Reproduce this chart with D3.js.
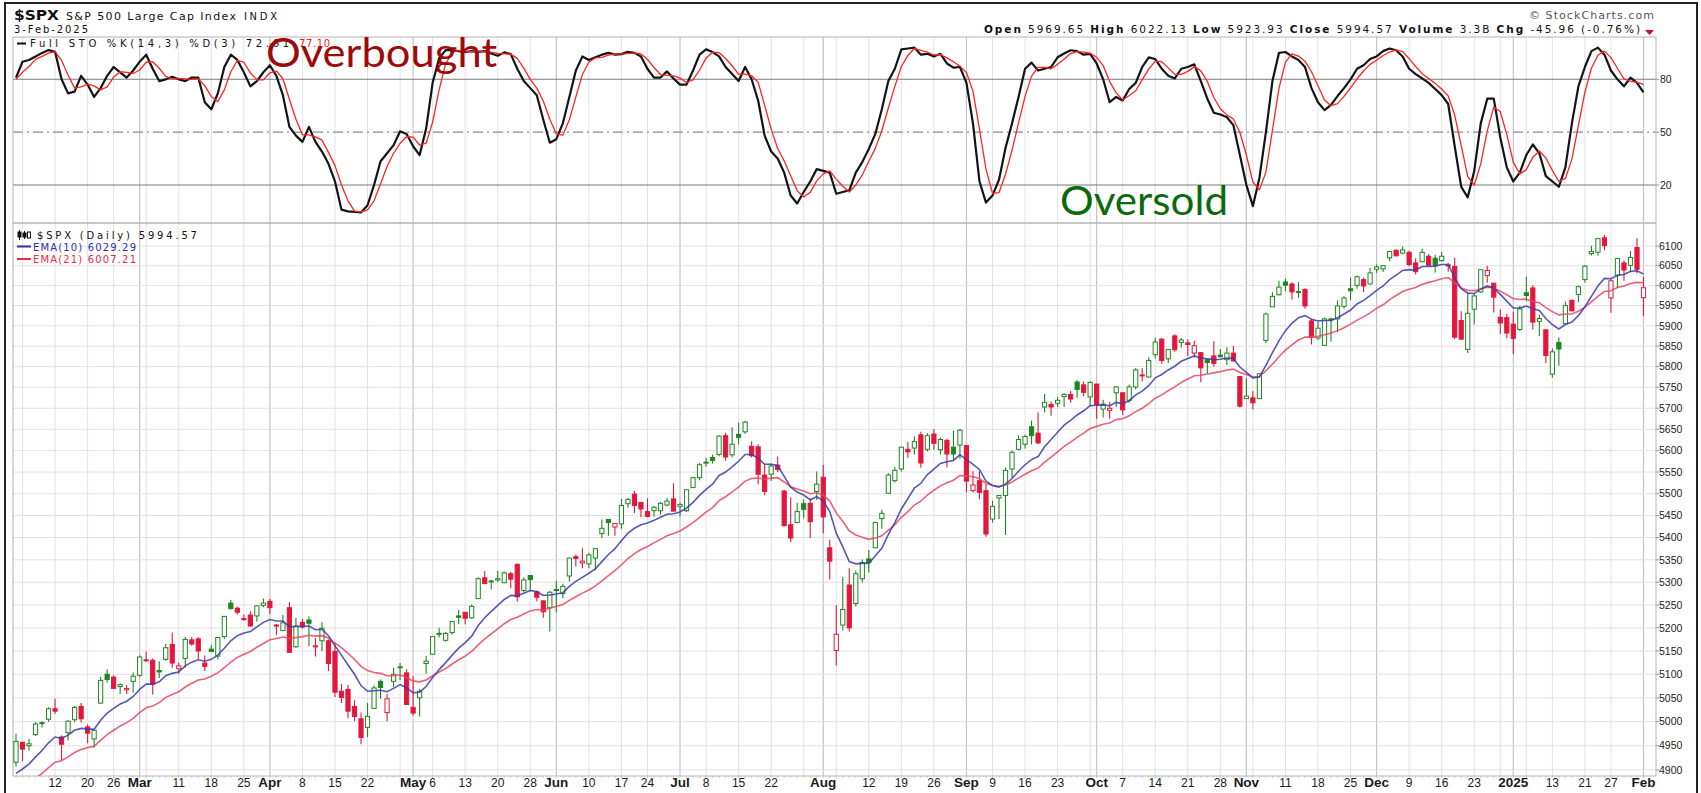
<!DOCTYPE html>
<html><head><meta charset="utf-8"><title>$SPX Full STO</title>
<script src="https://cdn.jsdelivr.net/npm/d3@7"></script>
<style>html,body{margin:0;padding:0;background:#fff;overflow:hidden}svg{display:block}</style>
</head><body><svg id="chart" width="1701" height="793"></svg>
<script>
// ---------------- DATA ----------------
const dates = [
"2024-02-02","2024-02-05","2024-02-06","2024-02-07","2024-02-08","2024-02-09","2024-02-12","2024-02-13","2024-02-14","2024-02-15","2024-02-16","2024-02-20","2024-02-21","2024-02-22","2024-02-23","2024-02-26","2024-02-27","2024-02-28","2024-02-29",
"2024-03-01","2024-03-04","2024-03-05","2024-03-06","2024-03-07","2024-03-08","2024-03-11","2024-03-12","2024-03-13","2024-03-14","2024-03-15","2024-03-18","2024-03-19","2024-03-20","2024-03-21","2024-03-22","2024-03-25","2024-03-26","2024-03-27","2024-03-28",
"2024-04-01","2024-04-02","2024-04-03","2024-04-04","2024-04-05","2024-04-08","2024-04-09","2024-04-10","2024-04-11","2024-04-12","2024-04-15","2024-04-16","2024-04-17","2024-04-18","2024-04-19","2024-04-22","2024-04-23","2024-04-24","2024-04-25","2024-04-26","2024-04-29","2024-04-30",
"2024-05-01","2024-05-02","2024-05-03","2024-05-06","2024-05-07","2024-05-08","2024-05-09","2024-05-10","2024-05-13","2024-05-14","2024-05-15","2024-05-16","2024-05-17","2024-05-20","2024-05-21","2024-05-22","2024-05-23","2024-05-24","2024-05-28","2024-05-29","2024-05-30","2024-05-31",
"2024-06-03","2024-06-04","2024-06-05","2024-06-06","2024-06-07","2024-06-10","2024-06-11","2024-06-12","2024-06-13","2024-06-14","2024-06-17","2024-06-18","2024-06-20","2024-06-21","2024-06-24","2024-06-25","2024-06-26","2024-06-27","2024-06-28",
"2024-07-01","2024-07-02","2024-07-03","2024-07-05","2024-07-08","2024-07-09","2024-07-10","2024-07-11","2024-07-12","2024-07-15","2024-07-16","2024-07-17","2024-07-18","2024-07-19","2024-07-22","2024-07-23","2024-07-24","2024-07-25","2024-07-26","2024-07-29","2024-07-30","2024-07-31",
"2024-08-01","2024-08-02","2024-08-05","2024-08-06","2024-08-07","2024-08-08","2024-08-09","2024-08-12","2024-08-13","2024-08-14","2024-08-15","2024-08-16","2024-08-19","2024-08-20","2024-08-21","2024-08-22","2024-08-23","2024-08-26","2024-08-27","2024-08-28","2024-08-29","2024-08-30",
"2024-09-03","2024-09-04","2024-09-05","2024-09-06","2024-09-09","2024-09-10","2024-09-11","2024-09-12","2024-09-13","2024-09-16","2024-09-17","2024-09-18","2024-09-19","2024-09-20","2024-09-23","2024-09-24","2024-09-25","2024-09-26","2024-09-27","2024-09-30",
"2024-10-01","2024-10-02","2024-10-03","2024-10-04","2024-10-07","2024-10-08","2024-10-09","2024-10-10","2024-10-11","2024-10-14","2024-10-15","2024-10-16","2024-10-17","2024-10-18","2024-10-21","2024-10-22","2024-10-23","2024-10-24","2024-10-25","2024-10-28","2024-10-29","2024-10-30","2024-10-31",
"2024-11-01","2024-11-04","2024-11-05","2024-11-06","2024-11-07","2024-11-08","2024-11-11","2024-11-12","2024-11-13","2024-11-14","2024-11-15","2024-11-18","2024-11-19","2024-11-20","2024-11-21","2024-11-22","2024-11-25","2024-11-26","2024-11-27","2024-11-29",
"2024-12-02","2024-12-03","2024-12-04","2024-12-05","2024-12-06","2024-12-09","2024-12-10","2024-12-11","2024-12-12","2024-12-13","2024-12-16","2024-12-17","2024-12-18","2024-12-19","2024-12-20","2024-12-23","2024-12-24","2024-12-26","2024-12-27","2024-12-30","2024-12-31",
"2025-01-02","2025-01-03","2025-01-06","2025-01-07","2025-01-08","2025-01-10","2025-01-13","2025-01-14","2025-01-15","2025-01-16","2025-01-17","2025-01-21","2025-01-22","2025-01-23","2025-01-24","2025-01-27","2025-01-28","2025-01-29","2025-01-30","2025-01-31",
"2025-02-03"];

const opens = [
4916,4957,4950,4973,4996,5005,5027,4968,4977,5004,5032,4989,4964,5039,5100,5094,5074,5067,5085,
5098,5131,5130,5108,5132,5164,5112,5134,5174,5176,5124,5154,5139,5181,5254,5243,5220,5228,5226,5249,
5258,5206,5194,5244,5159,5212,5217,5160,5172,5172,5149,5064,5068,5032,5006,4988,5028,5085,5019,5085,5114,5103,
5030,5050,5123,5143,5188,5173,5190,5226,5234,5222,5264,5310,5303,5305,5299,5319,5340,5282,5315,5279,5259,5244,
5284,5275,5314,5357,5343,5341,5354,5409,5441,5424,5431,5477,5499,5480,5459,5461,5461,5474,5488,
5471,5461,5514,5537,5572,5584,5591,5635,5590,5638,5644,5610,5609,5543,5545,5566,5506,5429,5434,5477,5478,5505,
5538,5377,5151,5206,5294,5253,5308,5352,5377,5443,5501,5530,5557,5603,5606,5637,5603,5639,5602,5624,5608,5613,
5612,5507,5530,5507,5442,5490,5496,5557,5603,5615,5656,5641,5703,5709,5712,5728,5733,5763,5756,5727,
5758,5698,5695,5737,5737,5719,5751,5778,5775,5829,5867,5819,5875,5859,5858,5833,5834,5817,5826,5828,5817,5833,5776,
5723,5725,5723,5864,5947,5977,6009,6004,5985,5990,5912,5870,5852,5917,5917,5948,5992,6000,6015,6004,
6041,6042,6070,6089,6082,6084,6057,6060,6074,6069,6063,6052,6048,5913,5842,5941,5984,6025,6006,5921,5920,
5904,5891,5982,5994,5911,5890,5782,5859,5905,5963,5978,6015,6081,6084,6121,5969,6026,6057,6051,6096,
5969.65];

const highs = [
4975,4958,4964,4999,5001,5030,5048,4971,5003,5033,5039,4994,4983,5094,5111,5098,5081,5077,5104,
5140,5149,5134,5128,5165,5190,5125,5180,5180,5180,5140,5163,5180,5225,5261,5246,5229,5236,5249,5264,
5263,5209,5228,5256,5222,5219,5225,5178,5212,5175,5169,5079,5077,5045,5019,5039,5076,5089,5058,5114,5124,5111,
5096,5069,5139,5181,5200,5191,5215,5239,5234,5251,5311,5325,5305,5325,5324,5323,5342,5311,5316,5282,5260,5281,
5303,5297,5354,5362,5376,5366,5375,5441,5442,5432,5488,5490,5506,5481,5489,5472,5481,5490,5524,
5480,5509,5539,5571,5583,5591,5636,5642,5655,5666,5670,5622,5615,5567,5570,5586,5509,5491,5479,5487,5489,5551,
5567,5395,5250,5312,5331,5326,5351,5372,5436,5464,5547,5562,5609,5620,5633,5644,5641,5651,5631,5628,5647,5651,
5612,5552,5552,5523,5484,5497,5560,5600,5636,5637,5671,5690,5734,5716,5726,5736,5741,5767,5764,5765,
5758,5720,5715,5753,5739,5757,5797,5796,5823,5871,5870,5842,5879,5870,5867,5863,5835,5818,5862,5843,5847,5850,5776,
5772,5741,5784,5933,5983,6012,6018,6008,6009,5993,5916,5909,5920,5920,5963,5973,6020,6025,6020,6044,
6053,6052,6087,6092,6099,6088,6069,6093,6080,6078,6085,6057,6070,5936,5982,5979,6040,6049,6006,5941,5929,
5935,5949,6022,6001,5928,5891,5844,5871,5960,5965,6000,6052,6101,6119,6128,6017,6070,6063,6087,6120,
6022.13];

const lows = [
4907,4918,4940,4970,4988,5000,5016,4920,4961,4999,4998,4955,4946,5038,5082,5068,5058,5058,5061,
5094,5127,5057,5092,5129,5114,5101,5114,5161,5132,5107,5148,5132,5176,5240,5229,5216,5203,5214,5245,
5230,5184,5194,5146,5157,5198,5160,5138,5150,5107,5052,5039,5007,5001,4953,4968,5028,5048,5001,5073,5088,5035,
5013,5011,5101,5143,5179,5170,5185,5208,5208,5220,5263,5297,5284,5300,5298,5287,5257,5278,5280,5258,5222,5192,
5234,5265,5302,5335,5331,5331,5327,5399,5404,5404,5420,5468,5456,5446,5446,5447,5452,5471,5460,
5448,5458,5513,5531,5563,5570,5587,5576,5584,5614,5639,5584,5522,5497,5529,5550,5425,5390,5434,5444,5399,5485,
5410,5306,5119,5194,5192,5246,5300,5322,5377,5420,5499,5526,5551,5583,5591,5560,5598,5602,5591,5561,5578,5581,
5503,5503,5487,5402,5434,5442,5406,5536,5601,5605,5614,5615,5690,5682,5703,5703,5713,5725,5728,5704,
5675,5678,5675,5703,5684,5713,5745,5764,5774,5820,5807,5809,5836,5846,5825,5822,5762,5784,5800,5823,5804,5812,5702,
5723,5697,5722,5857,5947,5976,5986,5965,5969,5942,5854,5865,5850,5861,5884,5942,5963,5992,5984,6003,
6032,6034,6061,6074,6079,6048,6028,6058,6051,6033,6060,6035,5867,5866,5833,5903,5982,6007,5933,5880,5869,
5830,5888,5961,5891,5874,5809,5773,5802,5905,5935,5958,6007,6076,6075,6089,5932,5994,6012,6033,6031,
5923.93];

const closes = [
4959,4943,4954,4995,4998,5027,5022,4953,5001,5030,5006,4976,4982,5087,5089,5070,5078,5070,5096,
5137,5131,5079,5105,5157,5124,5118,5175,5165,5150,5117,5149,5179,5225,5242,5234,5218,5204,5248,5254,
5244,5206,5211,5147,5204,5202,5210,5161,5199,5123,5062,5051,5022,5011,4967,5011,5071,5072,5048,5100,5116,5036,
5018,5064,5128,5181,5188,5188,5214,5223,5221,5247,5308,5297,5303,5308,5321,5307,5268,5305,5306,5267,5235,5278,
5283,5291,5354,5353,5347,5361,5375,5421,5434,5432,5473,5487,5473,5465,5448,5469,5478,5483,5460,
5475,5509,5537,5567,5573,5577,5634,5585,5615,5631,5667,5588,5545,5505,5564,5556,5427,5399,5459,5464,5436,5522,
5447,5347,5186,5240,5200,5319,5344,5344,5434,5455,5543,5554,5608,5597,5621,5571,5635,5617,5626,5592,5592,5648,
5529,5520,5503,5408,5471,5496,5554,5596,5626,5633,5635,5618,5714,5703,5719,5733,5722,5745,5738,5762,
5709,5710,5700,5751,5696,5751,5792,5780,5815,5860,5815,5842,5841,5865,5854,5851,5797,5810,5808,5824,5833,5814,5705,
5729,5713,5783,5929,5973,5996,6001,5984,5985,5949,5871,5894,5917,5917,5949,5969,5987,6022,5999,6032,
6047,6050,6086,6075,6090,6053,6035,6084,6051,6051,6074,6051,5872,5867,5931,5974,6040,6038,5971,5907,5882,
5869,5942,5975,5909,5918,5827,5836,5843,5950,5937,5997,6049,6086,6119,6101,6012,6068,6039,6071,6041,
5994.57];
const priorClose = 4906;

const ema10 = [
4893,4902,4912,4927,4940,4956,4968,4965,4972,4982,4986,4985,4984,5003,5018,5028,5037,5043,5053,
5068,5079,5079,5084,5097,5102,5105,5118,5126,5131,5128,5132,5141,5156,5172,5183,5189,5192,5202,5212,
5218,5215,5215,5202,5203,5203,5204,5196,5197,5183,5161,5141,5120,5100,5076,5064,5065,5066,5063,5070,5078,5071,
5061,5062,5074,5093,5110,5125,5141,5156,5168,5182,5205,5222,5236,5249,5262,5271,5270,5276,5282,5279,5271,5272,
5274,5277,5291,5302,5311,5320,5330,5346,5362,5375,5393,5410,5421,5429,5433,5439,5446,5453,5454,
5458,5467,5480,5496,5510,5522,5542,5550,5562,5575,5591,5591,5582,5568,5568,5565,5540,5515,5504,5497,5486,5493,
5484,5459,5410,5379,5346,5341,5342,5342,5359,5376,5407,5434,5465,5489,5513,5524,5544,5557,5570,5574,5577,5590,
5579,5568,5556,5529,5519,5515,5522,5535,5552,5567,5579,5586,5609,5626,5643,5660,5671,5684,5694,5706,
5707,5708,5706,5714,5711,5718,5732,5741,5754,5773,5781,5792,5801,5813,5820,5826,5821,5819,5817,5818,5821,5820,5799,
5786,5773,5775,5803,5834,5863,5888,5906,5920,5925,5916,5912,5913,5913,5920,5929,5939,5954,5963,5975,
5988,5999,6015,6026,6038,6040,6039,6048,6048,6049,6053,6053,6020,5992,5981,5980,5991,5999,5994,5978,5961,
5944,5944,5949,5942,5938,5918,5903,5892,5903,5909,5925,5947,5973,5999,6018,6017,6026,6028,6036,6037,
6029.29];

const ema21 = [
4855,4863,4871,4883,4893,4905,4916,4919,4927,4936,4942,4946,4949,4961,4973,4982,4991,4998,5007,
5019,5029,5033,5040,5051,5057,5063,5073,5081,5088,5090,5096,5103,5114,5126,5136,5143,5149,5158,5166,
5174,5177,5180,5177,5179,5181,5184,5182,5183,5178,5167,5157,5145,5132,5117,5108,5104,5102,5097,5097,5099,5093,
5086,5084,5088,5097,5105,5112,5122,5131,5139,5149,5163,5176,5187,5198,5209,5218,5223,5230,5237,5240,5239,5243,
5247,5251,5260,5268,5276,5283,5292,5303,5315,5326,5339,5353,5364,5373,5380,5388,5396,5404,5409,
5415,5424,5434,5446,5458,5468,5484,5493,5504,5515,5529,5535,5536,5533,5536,5537,5527,5516,5511,5506,5500,5502,
5497,5483,5456,5437,5415,5406,5401,5396,5399,5404,5417,5429,5446,5459,5474,5483,5497,5508,5518,5525,5531,5542,
5541,5539,5535,5524,5519,5517,5520,5527,5536,5545,5553,5559,5573,5585,5597,5610,5620,5631,5641,5652,
5657,5662,5665,5673,5675,5682,5692,5700,5711,5724,5732,5742,5751,5762,5770,5778,5779,5782,5785,5788,5792,5794,5786,
5781,5775,5776,5790,5806,5824,5840,5853,5865,5872,5872,5874,5878,5882,5888,5895,5904,5914,5922,5932,
5943,5952,5965,5975,5985,5991,5995,6003,6008,6012,6017,6020,6007,5994,5988,5987,5992,5996,5994,5986,5977,
5967,5965,5966,5960,5957,5945,5935,5927,5929,5929,5936,5946,5959,5973,5985,5987,5995,5999,6005,6008,
6007.21];

const stoK = [
81,90,91,93,95,96.6,95.6,80,72,73,82,77,70,75,82,87,84,81,85,
90,94,86,79,80,81.5,80,79,81,81,67,63,72,87,94,91,84,76,79,84,
88,82,71,53,48,44.5,53,44.5,39,32,22,6,5,4.7,4.4,8.5,20,33.5,38,42.6,50.5,49,
42,37,52,78,92,96.6,96.6,96,95.5,96,95.6,96,94.7,93.4,95.3,94.3,86,79,75,71,57,44,
46,55,70,85,93,91,92.5,94,95,94,94.3,95.6,95,93,86,81,81,84.5,80.5,
77,77,85,94,97,95.5,93,87,83,79,87,80,68,48,39,35,27,14,9.5,16,22,29,
28,27,15,16,17,27,33,40.5,49,63,79,86,97,97.5,98,94,94.5,93,94.5,89,86.6,87,
78,55,22,10,14,23,41,55,70,86,89.5,85,86,87,92.5,94.7,96.5,96,94,94.5,
89,80,67,70,68,74.5,78,87,92.5,91.5,86,82,80.5,86,87,88.5,79,69,61,60,58.5,54,37,
20,8,24,50,79,95,95.5,93,91,87,75,67,62.5,65.5,70.5,75,80,86,88,91.5,
93,96,97.5,96.5,93,86,83,80.5,78,74.5,71,66,42,19,13,28,55,69,69,47,30,
22,27,37,43,38,25,22,19,30,55,76,87,96,98,94,85,80,76,81,78,
72.61];

const stoD = [
80,84,87.3,91.3,93,94.9,95.7,90.7,82.5,75,75.7,77.3,76.3,74,75.7,81.3,84.3,84,83.3,
85.3,89.7,90,86.3,81.7,80.2,80.5,80.2,80,80.3,76.3,70.3,67.3,74,84.3,90.7,89.7,83.7,79.7,79.7,
83.7,84.7,80.3,68.7,57.3,48.5,48.5,47.3,45.5,38.5,31,20,11,5.2,4.7,5.9,11,20.7,30.5,38,43.7,47.4,
47.2,42.7,43.7,55.7,74,88.9,95.1,96.4,96,95.8,95.7,95.9,95.4,94.7,94.5,94.3,91.9,86.4,80,75,67.7,57.3,
49,48.3,57,70,82.7,89.7,92.2,92.5,93.8,94.3,94.4,94.6,95,94.5,91.3,86.7,82.7,82.2,82,
80.7,78.2,79.7,85.3,92,95.5,95.2,91.8,87.7,83,83,82,78.3,65.3,51.7,40.7,33.7,25.3,16.8,13.2,15.8,22.3,
26.3,28,23.3,19.3,16,20,25.7,33.5,40.8,50.8,63.7,76,87.3,93.5,97.5,96.5,95.5,93.8,94,92.2,90,87.5,
83.9,73.3,51.7,29,15.3,15.7,26,39.7,55.3,70.3,81.8,86.8,86.8,86,88.5,91.4,94.6,95.7,95.5,94.8,
92.5,87.8,78.7,72.3,68.3,70.8,73.5,79.8,85.8,90.3,90,86.5,82.8,82.8,84.5,87.2,84.8,78.8,69.7,63.3,59.8,57.5,49.8,
37,21.7,17.3,27.3,51,74.7,89.8,94.5,93.2,90.3,84.3,76.3,68.2,65,66.2,70.3,75.2,80.3,84.7,88.5,
90.8,93.5,95.5,96.7,95.7,91.8,87.3,83.2,80.5,77.7,74.5,70.5,59.7,42.3,24.7,20,32,50.7,64.3,61.7,48.7,
33,26.3,28.7,35.7,39.3,35.3,28.3,22,23.7,34.7,53.7,72.7,86.3,93.7,96,92.3,86.3,80.3,79,78.3,
77.10];

const priceTicks = [4900,4950,5000,5050,5100,5150,5200,5250,5300,5350,5400,5450,5500,5550,5600,5650,5700,5750,5800,5850,5900,5950,6000,6050,6100];
const stoTicks = [20,50,80];
const xTickDates = ["2024-02-12","2024-02-20","2024-02-26","2024-03-01","2024-03-11","2024-03-18","2024-03-25","2024-04-01","2024-04-08","2024-04-15","2024-04-22","2024-05-01","2024-05-06","2024-05-13","2024-05-20","2024-05-28","2024-06-03","2024-06-10","2024-06-17","2024-06-24","2024-07-01","2024-07-08","2024-07-15","2024-07-22","2024-08-01","2024-08-12","2024-08-19","2024-08-26","2024-09-03","2024-09-09","2024-09-16","2024-09-23","2024-10-01","2024-10-07","2024-10-14","2024-10-21","2024-10-28","2024-11-01","2024-11-11","2024-11-18","2024-11-25","2024-12-02","2024-12-09","2024-12-16","2024-12-23","2025-01-02","2025-01-13","2025-01-21","2025-01-27","2025-02-03"];
const xTickLabels = ["12","20","26","Mar","11","18","25","Apr","8","15","22","May","6","13","20","28","Jun","10","17","24","Jul","8","15","22","Aug","12","19","26","Sep","9","16","23","Oct","7","14","21","28","Nov","11","18","25","Dec","9","16","23","2025","13","21","27","Feb"];

// ---------------- LAYOUT ----------------
const svg = d3.select("#chart");
const L = 13, R = 1656, sT = 37, sB = 223, mT = 223, mB = 776;
const UP = "#1f871f", DOWN = "#e3173e";
const x = d3.scalePoint().domain(dates).range([16, 1643.5]);
const y = d3.scaleLog().domain([4887.7, 6159]).range([mB, mT]);
const ys = d3.scaleLinear().domain([0, 100]).range([220.2, 44.1]);
const parse = d3.timeParse("%Y-%m-%d");
const pd = dates.map(parse);

svg.append("rect").attr("width", 1701).attr("height", 793).attr("fill", "#fff");
const defs = svg.append("defs");
defs.append("clipPath").attr("id", "clipMain").append("rect").attr("x", L).attr("y", mT).attr("width", R - L).attr("height", mB - mT);
defs.append("clipPath").attr("id", "clipSto").append("rect").attr("x", L).attr("y", sT).attr("width", R - L).attr("height", sB - sT);

// vertical grid
const monthIdx = d3.range(1, dates.length).filter(i => pd[i].getMonth() !== pd[i - 1].getMonth());
const weekIdx = d3.range(1, dates.length).filter(i => +d3.timeMonday.floor(pd[i]) !== +d3.timeMonday.floor(pd[i - 1]) && !monthIdx.includes(i));
const grid = svg.append("g");
grid.selectAll("line.wk").data(weekIdx).join("line").attr("class", "wk")
  .attr("x1", i => x(dates[i])).attr("x2", i => x(dates[i])).attr("y1", sT).attr("y2", mB)
  .attr("stroke", "#e2e2e2").attr("stroke-width", 1);
grid.selectAll("line.mo").data(monthIdx).join("line").attr("class", "mo")
  .attr("x1", i => x(dates[i])).attr("x2", i => x(dates[i])).attr("y1", sT).attr("y2", mB)
  .attr("stroke", "#c4c4c4").attr("stroke-width", 1.2);
// horizontal grid main
grid.selectAll("line.hp").data(priceTicks).join("line").attr("class", "hp")
  .attr("x1", L).attr("x2", R).attr("y1", d => y(d)).attr("y2", d => y(d))
  .attr("stroke", "#e2e2e2");
// STO reference lines
grid.selectAll("line.hs").data(stoTicks).join("line").attr("class", "hs")
  .attr("x1", L).attr("x2", R).attr("y1", d => ys(d)).attr("y2", d => ys(d))
  .attr("stroke", d => d === 50 ? "#8c8c8c" : "#7a7a7a").attr("stroke-width", 1.1)
  .attr("stroke-dasharray", d => d === 50 ? "10,4,2,4" : null);

// panel borders
svg.append("rect").attr("x", L).attr("y", sT).attr("width", R - L).attr("height", sB - sT).attr("fill", "none").attr("stroke", "#b4b4b4");
svg.append("rect").attr("x", L).attr("y", mT).attr("width", R - L).attr("height", mB - mT).attr("fill", "none").attr("stroke", "#b4b4b4");

// ---------------- CANDLES ----------------
const candles = dates.map((d, i) => ({ d, o: opens[i], h: highs[i], l: lows[i], c: closes[i], pc: i ? closes[i - 1] : priorClose }));
const cg = svg.append("g").attr("clip-path", "url(#clipMain)");
const colr = k => k.c >= k.pc ? UP : DOWN;
cg.selectAll("line.wick").data(candles).join("line").attr("class", "wick")
  .attr("x1", k => x(k.d)).attr("x2", k => x(k.d)).attr("y1", k => y(k.h)).attr("y2", k => y(k.l))
  .attr("stroke", colr).attr("stroke-width", 1.1);
cg.selectAll("rect.body").data(candles).join("rect").attr("class", "body")
  .attr("x", k => x(k.d) - 2.1).attr("width", 4.2)
  .attr("y", k => y(Math.max(k.o, k.c)))
  .attr("height", k => Math.max(1, Math.abs(y(k.o) - y(k.c))))
  .attr("fill", k => k.c < k.o ? colr(k) : "#fff")
  .attr("stroke", colr).attr("stroke-width", 1);

// EMA overlays
const lineP = d3.line().x((v, i) => x(dates[i])).y(v => y(v));
cg.append("path").datum(ema21).attr("d", lineP).attr("fill", "none").attr("stroke", "#e8455f").attr("stroke-width", 1.6).attr("opacity", 0.85);
cg.append("path").datum(ema10).attr("d", lineP).attr("fill", "none").attr("stroke", "#3a3aaa").attr("stroke-width", 1.6).attr("opacity", 0.85);

// ---------------- STOCHASTIC ----------------
const sg = svg.append("g").attr("clip-path", "url(#clipSto)");
const lineS = d3.line().x((v, i) => x(dates[i])).y(v => ys(v));
sg.append("path").datum(stoK).attr("d", lineS).attr("fill", "none").attr("stroke", "#141414").attr("stroke-width", 2.2).attr("stroke-linejoin", "round");
sg.append("path").datum(stoD).attr("d", lineS).attr("fill", "none").attr("stroke", "#ff2424").attr("stroke-width", 1.3).attr("stroke-linejoin", "round");

// ---------------- AXES ----------------
const AX = "Liberation Sans, Arial, sans-serif";
const ya = svg.append("g");
ya.selectAll("line.tk").data(priceTicks).join("line").attr("class", "tk")
  .attr("x1", R).attr("x2", R + 3).attr("y1", d => y(d)).attr("y2", d => y(d)).attr("stroke", "#999");
ya.selectAll("text.pl").data(priceTicks).join("text").attr("class", "pl")
  .attr("x", R + 3).attr("y", d => y(d)).attr("dy", "0.36em")
  .attr("font-family", AX).attr("font-size", 10.5).attr("fill", "#222").text(d => d);
ya.selectAll("line.stk").data(stoTicks).join("line").attr("class", "stk")
  .attr("x1", R).attr("x2", R + 3).attr("y1", d => ys(d)).attr("y2", d => ys(d)).attr("stroke", "#999");
ya.selectAll("text.sl").data(stoTicks).join("text").attr("class", "sl")
  .attr("x", R + 4).attr("y", d => ys(d)).attr("dy", "0.36em")
  .attr("font-family", AX).attr("font-size", 10.5).attr("fill", "#222").text(d => d);

const xa = svg.append("g");
xa.selectAll("line.dt").data(dates).join("line").attr("class", "dt")
  .attr("x1", d => x(d)).attr("x2", d => x(d)).attr("y1", mB).attr("y2", mB + 2).attr("stroke", "#c8c8c8");
const isBold = t => isNaN(+t) || t === "2025";
xa.selectAll("text.xl").data(xTickDates).join("text").attr("class", "xl")
  .attr("x", d => x(d)).attr("y", 787).attr("text-anchor", "middle")
  .attr("font-family", AX)
  .attr("font-size", (d, i) => isBold(xTickLabels[i]) ? 13.5 : 12)
  .attr("font-weight", (d, i) => isBold(xTickLabels[i]) ? "bold" : "normal")
  .attr("fill", "#1a1a1a").text((d, i) => xTickLabels[i]);

// ---------------- HEADER & LEGENDS ----------------
const HF = "DejaVu Sans, Verdana, sans-serif";
svg.append("text").attr("x", 14).attr("y", 20).attr("font-family", HF).attr("font-weight", "bold").attr("font-size", 14)
  .attr("textLength", 45).attr("lengthAdjust", "spacingAndGlyphs").attr("fill", "#111").text("$SPX");
svg.append("text").attr("x", 66).attr("y", 20).attr("font-family", HF).attr("font-size", 11)
  .attr("textLength", 170).attr("lengthAdjust", "spacing").attr("fill", "#111").text("S&P 500 Large Cap Index");
svg.append("text").attr("x", 244).attr("y", 20).attr("font-family", HF).attr("font-size", 10)
  .attr("textLength", 33).attr("lengthAdjust", "spacing").attr("fill", "#111").text("INDX");
svg.append("text").attr("x", 14).attr("y", 33).attr("font-family", HF).attr("font-size", 10)
  .attr("textLength", 74).attr("lengthAdjust", "spacing").attr("fill", "#111").text("3-Feb-2025");
svg.append("text").attr("x", 1529).attr("y", 19).attr("font-family", HF).attr("font-size", 11)
  .attr("textLength", 125).attr("lengthAdjust", "spacing").attr("fill", "#555").text("\u00A9 StockCharts.com");

const hdr = svg.append("text").attr("x", 984).attr("y", 33).attr("font-family", HF).attr("font-size", 10.5)
  .attr("textLength", 656).attr("lengthAdjust", "spacing").attr("fill", "#111");
[["Open", 1], [" 5969.65  ", 0], ["High", 1], [" 6022.13  ", 0], ["Low", 1], [" 5923.93  ", 0], ["Close", 1], [" 5994.57  ", 0],
 ["Volume", 1], [" 3.3B  ", 0], ["Chg", 1], [" -45.96 (-0.76%)", 0]].forEach(([t, b]) => {
  hdr.append("tspan").attr("font-weight", b ? "bold" : "normal").text(t);
});
svg.append("path").attr("d", "M1645,30 L1654,30 L1649.5,35 Z").attr("fill", "#c8102e");

// STO legend
svg.append("line").attr("x1", 17).attr("x2", 26).attr("y1", 43.5).attr("y2", 43.5).attr("stroke", "#111").attr("stroke-width", 2);
svg.append("text").attr("x", 30).attr("y", 47).attr("font-family", HF).attr("font-size", 10)
  .attr("textLength", 266).attr("lengthAdjust", "spacing").attr("fill", "#111").text("Full STO %K(14,3) %D(3) 72.61,");
svg.append("text").attr("x", 299).attr("y", 47).attr("font-family", HF).attr("font-size", 10)
  .attr("textLength", 31).attr("lengthAdjust", "spacing").attr("fill", "#ee1c1c").text("77.10");

// main legend
const icon = svg.append("g").attr("stroke", "#111").attr("fill", "#111");
icon.append("line").attr("x1", 19.5).attr("x2", 19.5).attr("y1", 230).attr("y2", 240);
icon.append("rect").attr("x", 18).attr("y", 232).attr("width", 3).attr("height", 5);
icon.append("line").attr("x1", 24.5).attr("x2", 24.5).attr("y1", 231).attr("y2", 239);
icon.append("rect").attr("x", 23).attr("y", 233).attr("width", 3).attr("height", 4);
icon.append("rect").attr("x", 27.5).attr("y", 232).attr("width", 3).attr("height", 6).attr("fill", "#fff");
svg.append("text").attr("x", 37).attr("y", 238.5).attr("font-family", HF).attr("font-size", 10)
  .attr("textLength", 160).attr("lengthAdjust", "spacing").attr("fill", "#111").text("$SPX (Daily) 5994.57");
svg.append("line").attr("x1", 17).attr("x2", 31).attr("y1", 246.5).attr("y2", 246.5).attr("stroke", "#2f2fa8").attr("stroke-width", 2);
svg.append("text").attr("x", 33).attr("y", 250.5).attr("font-family", HF).attr("font-size", 10)
  .attr("textLength", 103).attr("lengthAdjust", "spacing").attr("fill", "#2f2fa8").text("EMA(10) 6029.29");
svg.append("line").attr("x1", 17).attr("x2", 31).attr("y1", 259).attr("y2", 259).attr("stroke", "#e8294a").attr("stroke-width", 2);
svg.append("text").attr("x", 33).attr("y", 263).attr("font-family", HF).attr("font-size", 10)
  .attr("textLength", 103).attr("lengthAdjust", "spacing").attr("fill", "#e8294a").text("EMA(21) 6007.21");

// annotations
svg.append("text").attr("x", 266).attr("y", 66.5).attr("font-family", "Lato, Open Sans, sans-serif").attr("font-size", 41)
  .attr("textLength", 231).attr("lengthAdjust", "spacingAndGlyphs").attr("fill", "#9e0a0a").text("Overbought");
svg.append("text").attr("x", 1060).attr("y", 215).attr("font-family", "Lato, Open Sans, sans-serif").attr("font-size", 41)
  .attr("textLength", 168).attr("lengthAdjust", "spacingAndGlyphs").attr("fill", "#0b6a0b").text("Oversold");

// outer frame
svg.append("rect").attr("x", 5).attr("y", 3).attr("width", 1692).attr("height", 800).attr("fill", "none").attr("stroke", "#222").attr("stroke-width", 2);
</script>
</body></html>
